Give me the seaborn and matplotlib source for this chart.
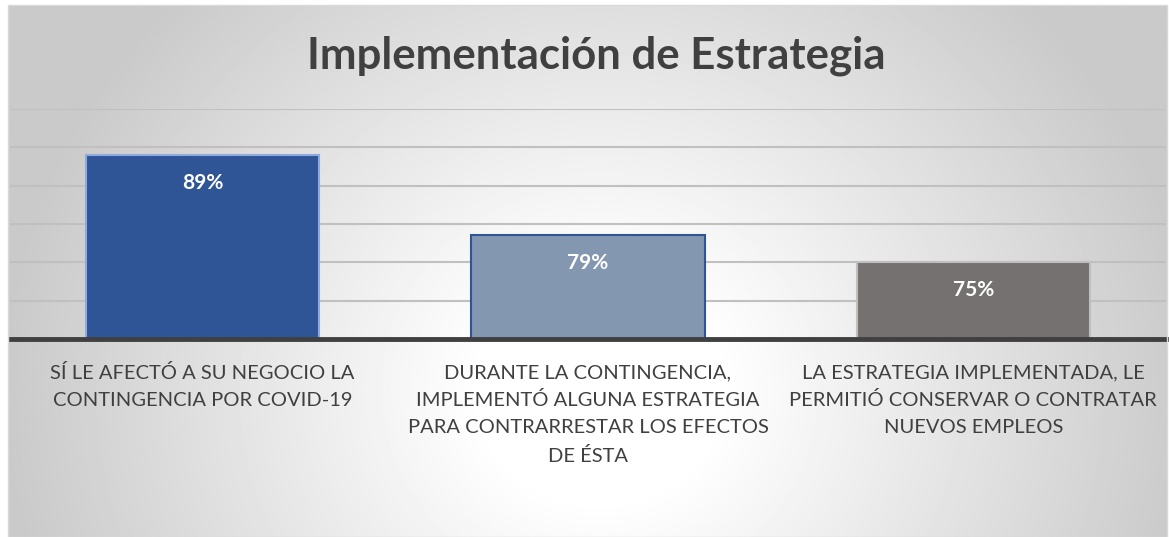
import numpy as np
import matplotlib.pyplot as plt
import seaborn as sns
from matplotlib.patches import Rectangle

categories = [
    "SÍ LE AFECTÓ A SU NEGOCIO LA\nCONTINGENCIA POR COVID-19",
    "DURANTE LA CONTINGENCIA,\nIMPLEMENTÓ ALGUNA ESTRATEGIA\nPARA CONTRARRESTAR LOS EFECTOS\nDE ÉSTA",
    "LA ESTRATEGIA IMPLEMENTADA, LE\nPERMITIÓ CONSERVAR O CONTRATAR\nNUEVOS EMPLEOS",
]
values = [89, 78.6, 75]
bar_colors = ["#2F5597", "#8497B0", "#767171"]
edge_colors = ["#8FAADC", "#2F5597", "#BFBFBF"]
title = "Implementación de Estrategia"

sns.set_style("white")
plt.rcParams["font.family"] = ["Lato", "DejaVu Sans"]

W, H = 1169, 537
fig = plt.figure(figsize=(W / 100, H / 100), dpi=100)
fig.patch.set_facecolor("white")

# radial gradient background of the chart area
bg = fig.add_axes([8 / W, 0, (1167 - 8) / W, 1 - 5 / H], zorder=-10)
gx, gy = np.meshgrid(np.linspace(8, 1167, 600), np.linspace(5, 537, 300))
r = np.sqrt(((gx - 600) / 600) ** 2 + ((gy - 390) / 560) ** 2)
r = np.clip((r - 0.2) / 0.8, 0, 1)
shade = 1 - 0.21 * r
bg.imshow(shade, cmap="gray", vmin=0, vmax=1, aspect="auto",
          extent=[0, 1, 0, 1], interpolation="bilinear")
bg.set_axis_off()
fig.add_artist(Rectangle((8 / W, 0), (1167 - 8) / W, 1 - 5 / H,
                         transform=fig.transFigure, fill=False,
                         edgecolor="#D9D9D9", lw=1))

ax = fig.add_axes([10 / W, 1 - 339 / H, (1166 - 10) / W, (339 - 109) / H])
ax.patch.set_alpha(0)

sns.barplot(x=categories, y=values, hue=categories, palette=bar_colors,
            legend=False, width=0.605, saturation=1, ax=ax, zorder=3)
for p, ec in zip(ax.patches, edge_colors):
    p.set_edgecolor(ec)
    p.set_linewidth(1.5)

for i, v in enumerate(values):
    ax.annotate(f"{v:.0f}%", (i, v), xytext=(0, -20), textcoords="offset points",
                ha="center", va="center", color="white", fontsize=15,
                fontweight="bold", zorder=5)

ax.set_ylim(65, 95)
ax.set_yticks(np.arange(65, 96, 5))
ax.set_yticklabels([])
ax.tick_params(axis="y", length=0)
ax.tick_params(axis="x", length=0, pad=18)
ax.yaxis.grid(True, color="#C0C0C0", lw=1.5, zorder=0)
ax.set_axisbelow(True)
for s in ["top", "left", "right"]:
    ax.spines[s].set_visible(False)
ax.spines["bottom"].set_color("#404040")
ax.spines["bottom"].set_linewidth(3.5)
ax.spines["bottom"].set_zorder(6)
ax.set_xlim(-0.5, 2.5)
ax.set_xlabel("")
ax.set_ylabel("")
for lbl in ax.get_xticklabels():
    lbl.set_fontsize(14.5)
    lbl.set_color("#404040")
    lbl.set_linespacing(1.7)
    lbl.set_va("top")

fig.text(596 / W, 1 - 56 / H, title, ha="center", va="center",
         fontsize=31.5, fontweight="bold", color="#404040")

fig.savefig("out.png", dpi=100)
